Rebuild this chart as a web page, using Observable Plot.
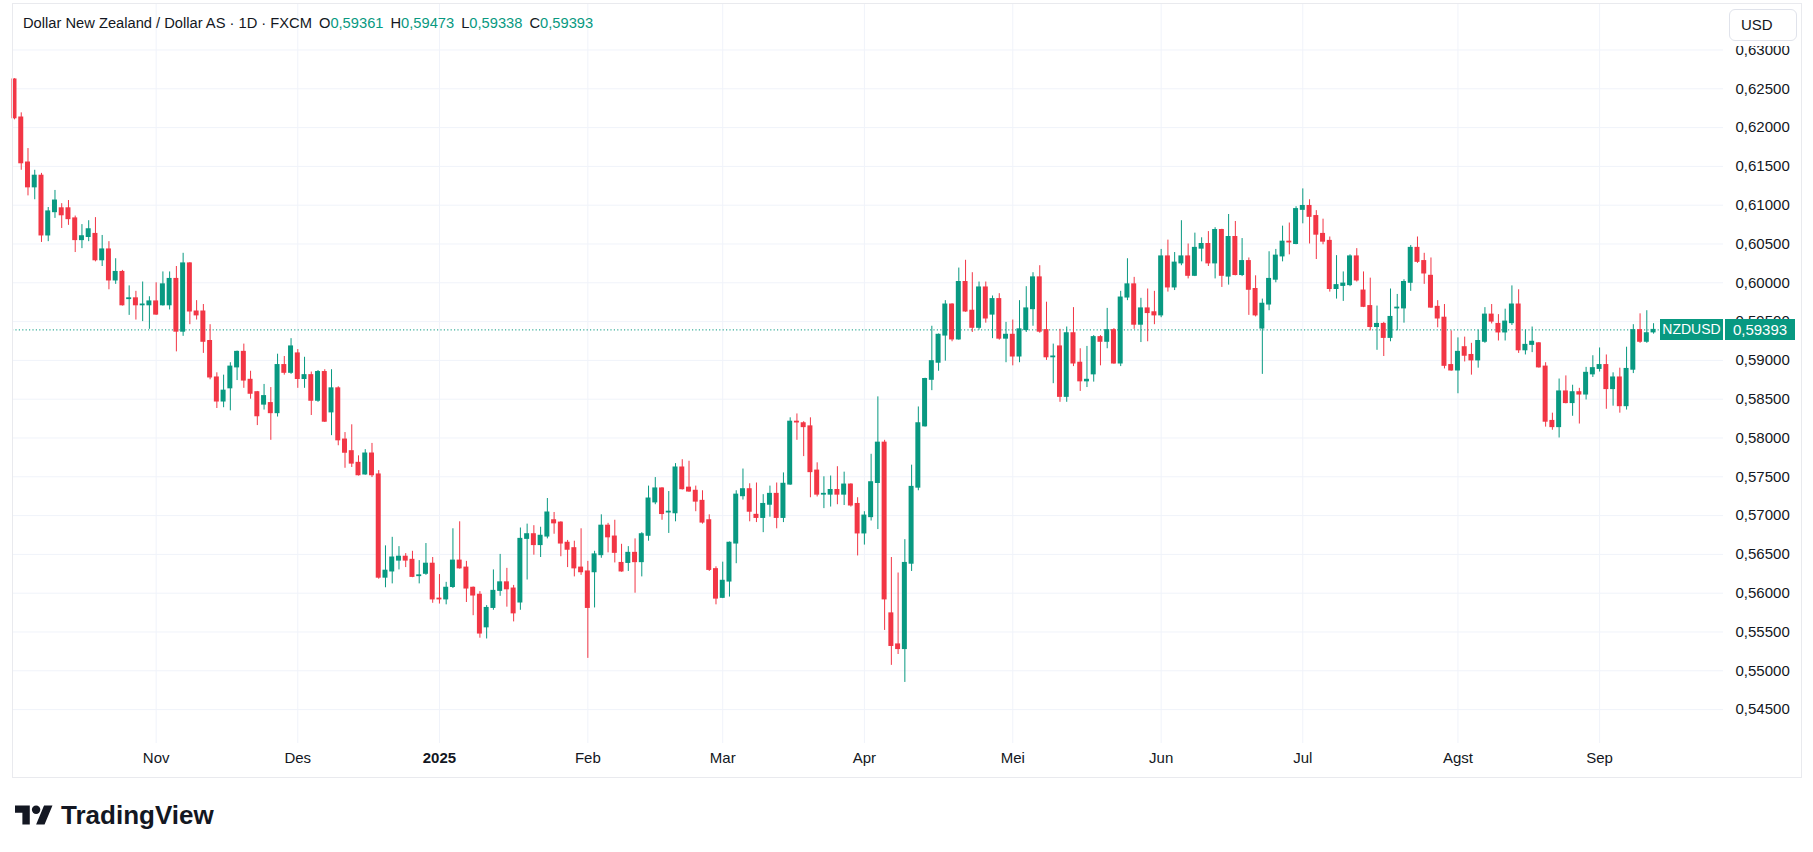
<!DOCTYPE html>
<html><head><meta charset="utf-8">
<script src="https://cdn.jsdelivr.net/npm/d3@7"></script>
<script src="https://cdn.jsdelivr.net/npm/@observablehq/plot@0.6"></script>
<style>
body{margin:0;background:#fff;font-family:"Liberation Sans",Arial,sans-serif;color:#131722;}
#wrap{position:relative;width:1813px;height:852px;overflow:hidden;background:#fff;}
#chart{position:absolute;left:0;top:0;}
.frame{position:absolute;left:12px;top:3px;width:1790px;height:775px;border:1px solid #e9eaee;box-sizing:border-box;pointer-events:none;}
#title{position:absolute;left:23px;top:16px;font-size:14.7px;line-height:15px;white-space:nowrap;}
#title .v{color:#089981;}
#title .k{margin-left:7px;}
#mask{position:absolute;left:1724px;top:4px;width:77px;height:42px;background:#fff;}
#usd{position:absolute;left:1729px;top:9px;width:68px;height:32px;border:1px solid #e0e3eb;border-radius:6px;background:#fff;box-sizing:border-box;font-size:15px;line-height:30px;padding-left:11px;}
.tag{position:absolute;height:21px;line-height:21px;color:#fff;background:#089981;text-align:center;font-size:15px;}
#logo{position:absolute;left:15px;top:801px;}
#brand{position:absolute;left:61px;top:802px;font-size:26px;line-height:26px;font-weight:bold;color:#131722;}
</style>
</head><body>
<div id="wrap">
  <div id="chart"></div>
  <div class="frame"></div>
  <div id="title"></div>
  <div id="mask"></div>
  <div id="usd">USD</div>
  <svg id="logo" width="38" height="30" viewBox="0 0 36 28"><path fill="#131722" d="M14 22H7V11H0V4h14v18zM28 22h-8l7.5-18h8L28 22z"/><circle fill="#131722" cx="20" cy="8" r="4"/></svg>
  <div id="brand">TradingView</div>
</div>
<script>
// ---- Data: daily NZDUSD candles (FXCM), Oct 3 2024 .. Sep 11 2025 ----
const openPrices = [
.6262,.6213,.6155,.6123,.6138,.6061,.6091,.6096,.6096,.6083,
.6055,.6059,.6063,.6029,.6043,.6003,.6014,.5979,.5980,.5971,
.5971,.5976,.5971,.5971,.6005,.5937,.6025,.5963,.5963,.5925,
.5878,.5847,.5864,.5891,.5911,.5875,.5859,.5843,.5845,.5832,
.5894,.5884,.5909,.5876,.5881,.5848,.5885,.5833,.5864,.5798,
.5783,.5768,.5753,.5780,.5753,.5620,.5628,.5642,.5647,.5643,
.5622,.5625,.5638,.5593,.5592,.5608,.5642,.5633,.5607,.5598,
.5556,.5581,.5603,.5614,.5606,.5588,.5670,.5676,.5662,.5673,
.5694,.5691,.5665,.5658,.5633,.5628,.5627,.5649,.5687,.5673,
.5639,.5639,.5652,.5640,.5674,.5717,.5735,.5704,.5703,.5762,
.5736,.5732,.5719,.5694,.5631,.5594,.5615,.5664,.5725,.5734,
.5701,.5697,.5714,.5728,.5697,.5740,.5821,.5819,.5815,.5758,
.5727,.5727,.5733,.5727,.5740,.5715,.5677,.5698,.5742,.5794,
.5574,.5534,.5528,.5638,.5736,.5815,.5875,.5897,.5932,.5972,
.5927,.6001,.5964,.5942,.5994,.5959,.5979,.5928,.5933,.5905,
.5939,.5966,.6007,.5939,.5904,.5918,.5853,.5935,.5897,.5873,
.5882,.5930,.5924,.5939,.5896,.5981,.5998,.5946,.5967,.5962,
.5958,.6034,.5994,.6025,.6034,.6009,.6044,.6050,.6025,.6068,
.6008,.6059,.6010,.6028,.5992,.5941,.5972,.6004,.6034,.6053,
.6050,.6094,.6099,.6086,.6063,.6054,.5992,.5996,.5997,.6034,
.5990,.5970,.5943,.5947,.5929,.5967,.5967,.6000,.6045,.6028,
.6009,.5969,.5955,.5894,.5887,.5917,.5907,.5900,.5924,.5959,
.5947,.5936,.5948,.5972,.5913,.5920,.5922,.5892,.5822,.5814,
.5860,.5845,.5859,.5856,.5882,.5889,.5894,.5863,.5878,.5841,
.5888,.5939,.5924,.59361];
const highPrices = [
.6263,.6219,.6173,.6145,.6141,.6097,.6119,.6102,.6106,.6086,
.6075,.6080,.6084,.6061,.6053,.6031,.6016,.5996,.5989,.6001,
.5982,.6000,.6014,.6014,.6021,.6038,.6026,.5977,.5972,.5946,
.5884,.5881,.5897,.5912,.5921,.5886,.5860,.5869,.5865,.5908,
.5905,.5928,.5914,.5904,.5885,.5887,.5888,.5888,.5866,.5807,
.5817,.5777,.5785,.5793,.5758,.5661,.5672,.5660,.5651,.5654,
.5642,.5664,.5646,.5624,.5614,.5683,.5692,.5641,.5608,.5602,
.5584,.5630,.5650,.5632,.5610,.5684,.5689,.5687,.5685,.5722,
.5704,.5692,.5668,.5667,.5683,.5641,.5654,.5701,.5690,.5694,
.5663,.5660,.5670,.5678,.5738,.5749,.5736,.5731,.5767,.5772,
.5770,.5738,.5732,.5701,.5634,.5640,.5666,.5732,.5760,.5741,
.5742,.5727,.5738,.5742,.5755,.5826,.5831,.5821,.5826,.5768,
.5750,.5751,.5763,.5756,.5741,.5723,.5705,.5779,.5853,.5797,
.5646,.5626,.5669,.5765,.5840,.5877,.5944,.5934,.5977,.5973,
.6019,.6029,.6013,.6001,.6001,.5983,.5986,.5949,.5952,.5977,
.5995,.6013,.6022,.5975,.5921,.5940,.5943,.5968,.5915,.5918,
.5932,.5932,.5967,.5941,.5989,.6031,.6007,.5980,.5992,.5989,
.6043,.6055,.6039,.6080,.6050,.6064,.6058,.6066,.6071,.6069,
.6088,.6079,.6057,.6032,.6009,.5979,.6040,.6043,.6073,.6077,
.6098,.6121,.6107,.6093,.6082,.6059,.6035,.6014,.6036,.6044,
.6014,.6006,.5970,.5949,.5992,.5985,.6004,.6048,.6059,.6038,
.6032,.5977,.5972,.5938,.5929,.5930,.5922,.5939,.5968,.5972,
.5959,.5966,.5996,.5991,.5939,.5943,.5923,.5897,.5832,.5876,
.5880,.5868,.5864,.5891,.5906,.5916,.5907,.5884,.5890,.5917,
.5946,.5960,.5964,.59473];
const lowPrices = [
.6210,.6145,.6112,.6107,.6052,.6053,.6083,.6070,.6074,.6039,
.6044,.6053,.6027,.6021,.5991,.5998,.5970,.5958,.5952,.5950,
.5940,.5958,.5970,.5965,.5911,.5931,.5946,.5952,.5909,.5875,
.5838,.5839,.5835,.5874,.5864,.5850,.5816,.5836,.5797,.5827,
.5881,.5882,.5864,.5864,.5829,.5846,.5820,.5803,.5790,.5761,
.5762,.5751,.5752,.5749,.5618,.5607,.5612,.5630,.5633,.5620,
.5612,.5623,.5587,.5586,.5585,.5606,.5631,.5588,.5571,.5542,
.5541,.5578,.5596,.5582,.5563,.5578,.5617,.5649,.5646,.5670,
.5676,.5647,.5633,.5621,.5623,.5516,.5581,.5645,.5652,.5639,
.5627,.5628,.5600,.5621,.5667,.5714,.5694,.5677,.5692,.5733,
.5730,.5705,.5689,.5628,.5585,.5593,.5595,.5638,.5720,.5692,
.5691,.5678,.5698,.5683,.5691,.5739,.5797,.5776,.5723,.5724,
.5709,.5711,.5714,.5713,.5711,.5648,.5662,.5693,.5682,.5552,
.5507,.5521,.5485,.5628,.5732,.5814,.5861,.5886,.5899,.5924,
.5926,.5962,.5936,.5939,.5948,.5928,.5926,.5897,.5893,.5897,
.5936,.5944,.5935,.5900,.5870,.5846,.5846,.5892,.5860,.5865,
.5872,.5893,.5915,.5895,.5892,.5977,.5940,.5923,.5924,.5946,
.5955,.5988,.5990,.6022,.6005,.6008,.6027,.6021,.6005,.5994,
.5997,.6009,.6008,.5958,.5956,.5882,.5964,.6000,.6027,.6036,
.6049,.6076,.6050,.6030,.6049,.5988,.5979,.5976,.5995,.6001,
.5968,.5938,.5913,.5905,.5924,.5938,.5948,.5989,.6025,.5998,
.5967,.5942,.5889,.5886,.5857,.5898,.5881,.5890,.5922,.5947,
.5925,.5925,.5945,.5909,.5907,.5910,.5890,.5814,.5810,.5800,
.5844,.5828,.5818,.5849,.5878,.5885,.5837,.5841,.5832,.5836,
.5883,.5922,.5922,.59338];
const closePrices = [
.6212,.6154,.6123,.6138,.6061,.6092,.6106,.6087,.6082,.6055,
.6060,.6069,.6029,.6043,.6003,.6014,.5971,.5980,.5971,.5972,
.5976,.5959,.5998,.6005,.5937,.6025,.5963,.5958,.5924,.5878,
.5847,.5861,.5892,.5911,.5874,.5857,.5828,.5854,.5832,.5894,
.5884,.5918,.5876,.5881,.5848,.5885,.5821,.5864,.5797,.5781,
.5767,.5752,.5780,.5752,.5620,.5629,.5646,.5647,.5642,.5621,
.5623,.5638,.5592,.5592,.5607,.5642,.5632,.5606,.5597,.5548,
.5581,.5603,.5614,.5605,.5574,.5670,.5676,.5662,.5674,.5704,
.5690,.5664,.5656,.5632,.5627,.5581,.5650,.5687,.5672,.5652,
.5628,.5652,.5640,.5676,.5722,.5735,.5702,.5705,.5762,.5734,
.5731,.5718,.5691,.5630,.5593,.5616,.5665,.5727,.5734,.5705,
.5697,.5715,.5728,.5697,.5741,.5821,.5820,.5814,.5756,.5727,
.5728,.5733,.5727,.5740,.5713,.5677,.5700,.5743,.5794,.5592,
.5532,.5528,.5639,.5737,.5819,.5876,.5899,.5933,.5972,.5927,
.6001,.5963,.5942,.5994,.5954,.5979,.5928,.5933,.5905,.5940,
.5967,.6007,.5937,.5904,.5905,.5853,.5935,.5896,.5873,.5875,
.5930,.5924,.5939,.5896,.5981,.5998,.5946,.5967,.5961,.5958,
.6034,.5994,.6026,.6034,.6009,.6045,.6050,.6025,.6068,.6009,
.6059,.6010,.6028,.5991,.5958,.5973,.6005,.6035,.6053,.6052,
.6095,.6099,.6085,.6062,.6053,.5992,.5997,.5999,.6034,.6003,
.5969,.5943,.5947,.5929,.5956,.5968,.6001,.6045,.6027,.6012,
.5968,.5954,.5893,.5887,.5911,.5906,.5900,.5925,.5959,.5950,
.5936,.5950,.5972,.5913,.5920,.5924,.5891,.5821,.5814,.5860,
.5845,.5859,.5856,.5884,.5890,.5894,.5863,.5878,.5841,.5889,
.5939,.5924,.5935,.59393];

// time-axis ticks: bar index of the first bar of each month, and its label
const monthTickIndex = [21, 42, 63, 85, 105, 126, 148, 170, 191, 214, 235];
const monthTickLabels = ["Nov", "Des", "2025", "Feb", "Mar", "Apr", "Mei", "Jun", "Jul", "Agst", "Sep"];
// price-axis ticks
const priceTicks = [0.545, 0.55, 0.555, 0.56, 0.565, 0.57, 0.575, 0.58, 0.585, 0.59, 0.595, 0.60, 0.605, 0.61, 0.615, 0.62, 0.625, 0.63];
const symbolName = "NZDUSD";
const titleText = "Dollar New Zealand / Dollar AS · 1D · FXCM";

// ---- build table ----
const UP = "#089981", DOWN = "#F23645", GRID = "#f0f3fa", TXT = "#131722";
const candles = openPrices.map((o, i) => ({i, o, h: highPrices[i], l: lowPrices[i], c: closePrices[i]}));
const ups = candles.filter(d => d.c >= d.o);
const downs = candles.filter(d => d.c < d.o);
const months = monthTickIndex.map((i, k) => ({i, label: monthTickLabels[k]}));
const fmt = v => v.toFixed(5).replace(".", ",");
const last = candles[candles.length - 1];
const HW = 0.37;

const chart = Plot.plot({
  width: 1813, height: 852,
  marginLeft: 12, marginRight: 90, marginTop: 4, marginBottom: 109,
  x: {type: "linear", domain: [-0.2965, 253.37], axis: null},
  y: {domain: [0.540631, 0.635863], axis: null},
  style: {fontFamily: "Liberation Sans, Arial, sans-serif", fontSize: "15px", color: TXT, background: "transparent"},
  marks: [
    Plot.ruleY(priceTicks, {stroke: GRID, strokeWidth: 1}),
    Plot.ruleX(monthTickIndex, {stroke: GRID, strokeWidth: 1}),
    Plot.axisY(priceTicks, {anchor: "right", tickSize: 0, tickPadding: 12, tickFormat: fmt, fill: TXT, fontSize: 15}),
    Plot.text(months.filter(d => d.label !== "2025"), {x: "i", text: "label", frameAnchor: "bottom", dy: 19.5, fill: TXT, fontSize: 15}),
    Plot.text(months.filter(d => d.label === "2025"), {x: "i", text: "label", frameAnchor: "bottom", dy: 19.5, fill: TXT, fontSize: 15, fontWeight: "bold"}),
    Plot.ruleY([last.c], {stroke: UP, strokeWidth: 1, strokeDasharray: "1.2,2.2"}),
    Plot.ruleX(ups, {x: "i", y1: "l", y2: "h", stroke: UP, strokeWidth: 1}),
    Plot.ruleX(downs, {x: "i", y1: "l", y2: "h", stroke: DOWN, strokeWidth: 1}),
    Plot.rect(ups, {x1: d => d.i - HW, x2: d => d.i + HW, y1: "o", y2: "c", fill: UP, insetTop: -0.5, insetBottom: -0.5}),
    Plot.rect(downs, {x1: d => d.i - HW, x2: d => d.i + HW, y1: "o", y2: "c", fill: DOWN, insetTop: -0.5, insetBottom: -0.5})
  ]
});
document.getElementById("chart").appendChild(chart);

// title / legend
const t = document.getElementById("title");
t.innerHTML = `<span>${titleText}</span>` +
  `<span class="k">O<span class="v">${fmt(last.o)}</span></span>` +
  `<span class="k">H<span class="v">${fmt(last.h)}</span></span>` +
  `<span class="k">L<span class="v">${fmt(last.l)}</span></span>` +
  `<span class="k">C<span class="v">${fmt(last.c)}</span></span>`;

// last-price tags on the price axis
const yPos = chart.scale("y").apply(last.c);
const wrap = document.getElementById("wrap");
const tag1 = document.createElement("div");
tag1.className = "tag"; tag1.textContent = symbolName;
tag1.style.cssText = `left:1660px;width:63px;top:${yPos - 10.5}px;font-size:14px;`;
const tag2 = document.createElement("div");
tag2.className = "tag"; tag2.textContent = fmt(last.c);
tag2.style.cssText = `left:1725px;width:70px;top:${yPos - 10.5}px;`;
wrap.appendChild(tag1); wrap.appendChild(tag2);
</script>
</body></html>
